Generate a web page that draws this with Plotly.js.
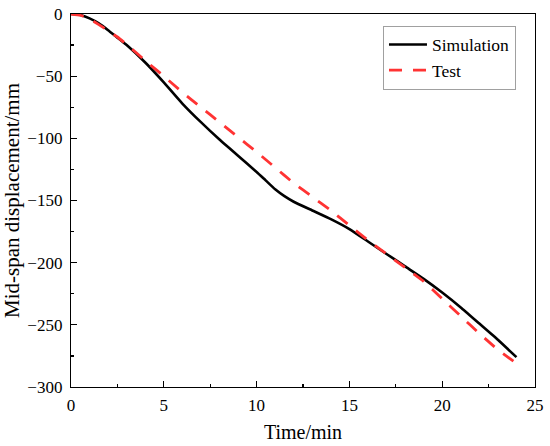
<!DOCTYPE html>
<html>
<head>
<meta charset="utf-8">
<script src="https://cdn.plot.ly/plotly-3.0.1.min.js"></script>
<style>html,body{margin:0;padding:0;background:#fff;}#chart{width:550px;height:446px;}</style>
</head>
<body>
<div id="chart"></div>
<script>
const simTime = [0,0.5,1,1.5,2,2.5,3,4,5,6,7,8,9,10,10.5,11,11.5,12,13,14,15,16,17,18,19,20,21,22,23,24];
const simDisp = [0,-0.8,-3.5,-7.5,-13,-19,-25,-39,-55,-72,-87,-101,-114,-127,-134,-141,-146.5,-151,-158,-165,-173,-183,-193,-203,-213,-224,-236,-249,-262,-276];
const testTime = [0,0.5,1,1.5,2,2.5,3,4,5,6,7,8,9,10,11,12,13,14,15,16,17,18,19,20,21,22,23,24];
const testDisp = [0,-1,-4,-8.5,-13.5,-18.5,-24.5,-37.5,-50,-63,-75,-87,-99,-111,-123.5,-136,-147,-158,-170,-182,-193,-204,-215,-229,-243,-257,-270,-281];
const xTicks = [0,5,10,15,20,25];
const yTicks = [0,-50,-100,-150,-200,-250,-300];
const seriesNames = ['Simulation','Test'];

const font = 'Liberation Serif, Times New Roman, serif';
const traces = [
  {x: simTime, y: simDisp, name: seriesNames[0], mode: 'lines',
   line: {color: '#000000', width: 2.6, shape: 'spline', smoothing: 0.4}},
  {x: testTime, y: testDisp, name: seriesNames[1], mode: 'lines',
   line: {color: '#ff3333', width: 2.8, dash: '13px,11px', shape: 'spline', smoothing: 0.3}}
];
const axisCommon = {
  showgrid: false, zeroline: false, showline: true, linecolor: '#000', linewidth: 1.2,
  mirror: true, ticks: 'inside', ticklen: 6, tickwidth: 1.2, tickcolor: '#000',
  ticklabelstandoff: 4,
  tickfont: {family: font, size: 17, color: '#000'},
  minor: {ticks: 'inside', ticklen: 3, tickwidth: 1.2, tickcolor: '#000'}
};
const layout = {
  width: 550, height: 446,
  margin: {l: 71, r: 15, t: 14, b: 59},
  paper_bgcolor: '#fff', plot_bgcolor: '#fff',
  font: {family: font, color: '#000'},
  showlegend: true,
  legend: {x: 0.959, y: 0.969, xanchor: 'right', yanchor: 'top',
    bgcolor: '#fff', bordercolor: '#a0a0a0', borderwidth: 1,
    font: {family: font, size: 17.5, color: '#000'}, itemwidth: 38, tracegroupgap: 0},
  xaxis: Object.assign({}, axisCommon, {
    range: [0, 25], tickvals: xTicks, ticktext: xTicks.map(String),
    ticklabelstandoff: 2,
    minor: Object.assign({}, axisCommon.minor, {dtick: 2.5}),
    title: {text: 'Time/min', font: {family: font, size: 20, color: '#000'}, standoff: 11}
  }),
  yaxis: Object.assign({}, axisCommon, {
    range: [-300, 0], tickvals: yTicks, ticktext: yTicks.map(v => v === 0 ? '0' : '\u2212' + Math.abs(v)),
    minor: Object.assign({}, axisCommon.minor, {dtick: 25}),
    title: {text: 'Mid-span displacement/mm', font: {family: font, size: 21, color: '#000'}, standoff: 6}
  })
};
Plotly.newPlot('chart', traces, layout, {displayModeBar: false, staticPlot: true});
</script>
</body>
</html>
